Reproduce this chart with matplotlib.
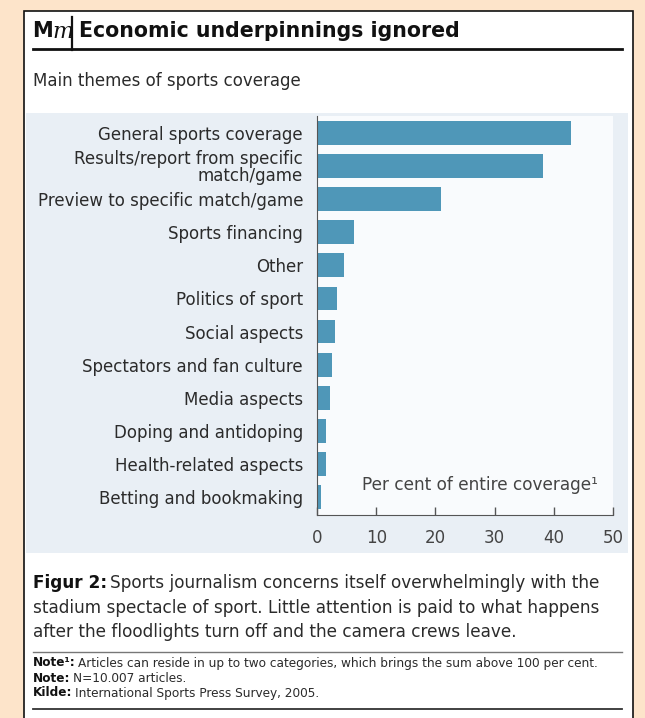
import matplotlib
matplotlib.use("Agg")
import matplotlib.pyplot as plt
from matplotlib.patches import Rectangle
from matplotlib.lines import Line2D

# data
themes = ["General sports coverage", "Results/report from specific\nmatch/game",
          "Preview to specific match/game", "Sports financing", "Other",
          "Politics of sport", "Social aspects", "Spectators and fan culture",
          "Media aspects", "Doping and antidoping", "Health-related aspects",
          "Betting and bookmaking"]
share = [42.9, 38.2, 21.0, 6.3, 4.6, 3.3, 3.0, 2.6, 2.2, 1.6, 1.6, 0.6]
xticks = [0, 10, 20, 30, 40, 50]

W, H = 645, 718
PEACH = "#fde4ca"; PANEL = "#e9eff5"; BAR = "#4f97b8"; INK = "#2b2b2b"
plt.rcParams["font.family"] = ["DejaVu Sans"]

fig = plt.figure(figsize=(W / 100, H / 100), dpi=100, facecolor=PEACH)

def fx(x): return x / W
def fy(y): return 1 - y / H

# white card and light chart panel
fig.patches.append(Rectangle((fx(24), fy(730)), fx(609), (730 - 11) / H, transform=fig.transFigure,
                             facecolor="white", edgecolor="#111111", lw=1.2, zorder=-3))
fig.patches.append(Rectangle((fx(26), fy(553)), fx(602), (553 - 113) / H, transform=fig.transFigure,
                             facecolor=PANEL, edgecolor="none", zorder=-2))

# header
fig.text(fx(32), fy(31), "M", fontsize=15, fontweight="bold", va="center", color="#111111")
fig.text(fx(52), fy(32), "m", fontsize=16, fontstyle="italic", family="DejaVu Serif", va="center",
         color="#111111")
fig.lines.append(Line2D([fx(72), fx(72)], [fy(17), fy(50)], transform=fig.transFigure, color="#111111", lw=1.6))
fig.text(fx(79), fy(31), "Economic underpinnings ignored", fontsize=14.8, fontweight="bold",
         va="center", color="#111111")
fig.lines.append(Line2D([fx(33), fx(622)], [fy(49), fy(49)], transform=fig.transFigure, color="#111111", lw=2))
fig.text(fx(33), fy(81), "Main themes of sports coverage", fontsize=12, va="center", color=INK)

# chart
ax = fig.add_axes([fx(317), fy(515), fx(613) - fx(317), (515 - 116) / H])
ax.set_zorder(2)
ax.set_facecolor("#f9fbfd")
pos = list(range(len(themes)))
ax.barh(pos, share, height=0.72, color=BAR, zorder=2)
ax.set_xlim(0, 50)
ax.set_ylim(11.54, -0.51)
ax.set_yticks(pos)
ax.set_yticklabels(themes, fontsize=12, color=INK, linespacing=0.92)
ax.set_xticks(xticks)
ax.set_xticklabels([str(t) for t in xticks], fontsize=12, color="#444444")
ax.tick_params(axis="y", length=0, pad=10)
ax.tick_params(axis="x", direction="in", length=6, width=1, color="#555555", pad=10)
for s in ["top", "right"]:
    ax.spines[s].set_visible(False)
ax.spines["left"].set_color("#555555")
ax.spines["bottom"].set_color("#555555")
ax.text(0.95, 0.075, "Per cent of entire coverage\u00b9", transform=ax.transAxes, ha="right",
        va="center", fontsize=12.2, color="#444444")

# caption and notes with bold lead-ins
fig.canvas.draw()
rend = fig.canvas.get_renderer()

def lead(x, y, bold, rest, size, color=INK):
    t = fig.text(fx(x), fy(y), bold, fontsize=size, fontweight="bold", va="center", color="#111111")
    bb = t.get_window_extent(renderer=rend)
    fig.text(bb.x1 / W + 0.004, fy(y), rest, fontsize=size, va="center", color=color)

lead(33, 583, "Figur 2:", "Sports journalism concerns itself overwhelmingly with the", 12.2)
fig.text(fx(33), fy(608), "stadium spectacle of sport. Little attention is paid to what happens",
         fontsize=12.2, va="center", color=INK)
fig.text(fx(33), fy(632), "after the floodlights turn off and the camera crews leave.",
         fontsize=12.2, va="center", color=INK)
fig.lines.append(Line2D([fx(33), fx(622)], [fy(652), fy(652)], transform=fig.transFigure, color="#777777", lw=1))
lead(33, 663, "Note\u00b9:", "Articles can reside in up to two categories, which brings the sum above 100 per cent.", 8.7)
lead(33, 678, "Note:", "N=10.007 articles.", 8.7)
lead(33, 693, "Kilde:", "International Sports Press Survey, 2005.", 8.7)
fig.lines.append(Line2D([fx(33), fx(622)], [fy(709), fy(709)], transform=fig.transFigure, color="#333333", lw=1.3))

fig.savefig("out.png", dpi=100, facecolor=PEACH)
